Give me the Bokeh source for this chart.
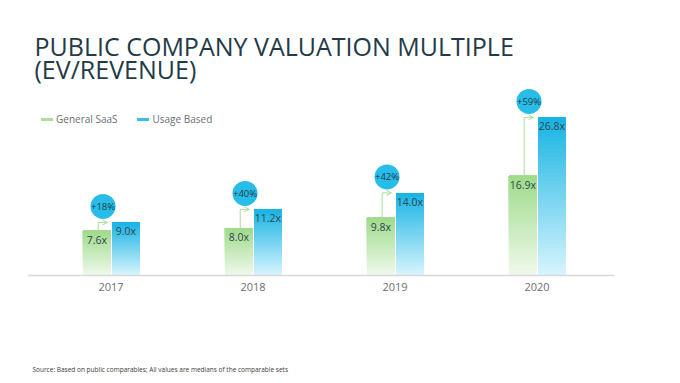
from bokeh.plotting import figure
from bokeh.models import (ColumnDataSource, Label, Legend, LegendItem,
                          Arrow, OpenHead, Range1d, Span)
from bokeh.core.properties import value
from bokeh.embed import file_html
from bokeh.resources import INLINE

# ---- data ----
years = ["2017", "2018", "2019", "2020"]
general_saas = [7.6, 8.0, 9.8, 16.9]
usage_based = [9.0, 11.2, 14.0, 26.8]
uplift = ["+18%", "+40%", "+42%", "+59%"]

# ---- style ----
W, H = 672, 378
FONT = "Open Sans"
GREEN_TOP, GREEN_BOT = (0x9f, 0xdb, 0x8b), (0xef, 0xf9, 0xeb)
BLUE_TOP, BLUE_BOT = (0x18, 0xb4, 0xe3), (0xd6, 0xf4, 0xfd)
N = 40
PX_PER_UNIT = 5.9
BASE_PX = 275          # baseline distance from the top of the canvas
BELOW = H - BASE_PX    # space under the baseline

p = figure(width=W, height=H, output_backend="svg", toolbar_location=None,
           min_border_left=27, min_border_right=58, min_border_top=0, min_border_bottom=0,
           x_range=Range1d(-0.588, 3.546),
           y_range=Range1d(-BELOW / PX_PER_UNIT, BASE_PX / PX_PER_UNIT))
p.outline_line_color = None
p.grid.visible = False
p.xaxis.visible = False
p.yaxis.visible = False
p.background_fill_color = "white"
p.border_fill_color = "white"

# baseline (category axis line)
p.add_layout(Span(location=0, dimension="width", line_color="#d8d8d8", line_width=1.5))


def mix(c1, c2, t):
    r = [round(a + (b - a) * t) for a, b in zip(c1, c2)]
    return "#%02x%02x%02x" % tuple(r)


def gradient_source(vals, offset, top_c, bot_c):
    xs, bots, tops, cols = [], [], [], []
    for i, v in enumerate(vals):
        for k in range(N):
            xs.append(i + offset)
            bots.append(v * k / N)
            tops.append(v)
            cols.append(mix(bot_c, top_c, k / (N - 1)))
    return ColumnDataSource(dict(x=xs, bottom=bots, top=tops, color=cols))


BW = 0.195
g_src = gradient_source(general_saas, -0.1, GREEN_TOP, GREEN_BOT)
b_src = gradient_source(usage_based, 0.105, BLUE_TOP, BLUE_BOT)
g_r = p.vbar(x="x", bottom="bottom", top="top", width=BW, source=g_src,
             fill_color="color", line_color=None)
b_r = p.vbar(x="x", bottom="bottom", top="top", width=BW, source=b_src,
             fill_color="color", line_color=None)

# category labels
idx = list(range(len(years)))
cat = ColumnDataSource(dict(x=idx, y=[0] * len(years), t=years))
p.text(x="x", y="y", text="t", source=cat, y_offset=11, text_align="center",
       text_baseline="middle", text_font=value(FONT), text_font_size="11px",
       text_color="#6e6e6e")

# value labels
lab = ColumnDataSource(dict(
    gx=[i - 0.1 for i in idx], gy=general_saas, gt=["%.1fx" % v for v in general_saas],
    bx=[i + 0.105 for i in idx], by=usage_based, bt=["%.1fx" % v for v in usage_based],
    ax0=[i - 0.09 for i in idx], ax1=[i - 0.025 for i in idx],
    cx=[i - 0.056 for i in idx], cy=[v + 16 / PX_PER_UNIT for v in usage_based],
    ut=uplift))
for xf, yf, tf in (("gx", "gy", "gt"), ("bx", "by", "bt")):
    p.text(x=xf, y=yf, text=tf, source=lab, y_offset=9, text_align="center",
           text_baseline="middle", text_font=value(FONT), text_font_size="10.5px",
           text_color="#2f4650")

# arrows
ARROW_C = "#a9dc98"
p.segment(x0="ax0", y0="gy", x1="ax0", y1="by", source=lab, line_color=ARROW_C, line_width=1)
p.add_layout(Arrow(x_start="ax0", y_start="by", x_end="ax1", y_end="by", source=lab,
                   line_color=ARROW_C, line_width=1,
                   end=OpenHead(size=5, line_color=ARROW_C, line_width=1)))

# uplift circles
p.scatter(x="cx", y="cy", source=lab, size=25, marker="circle",
          fill_color="#27bde8", line_color=None)
p.text(x="cx", y="cy", text="ut", source=lab, text_align="center", text_baseline="middle",
       text_font=value(FONT), text_font_size="9.5px", text_color="#1d3a48")

# legend
legend = Legend(items=[LegendItem(label="General SaaS", renderers=[g_r], index=3 * N + N - 8),
                       LegendItem(label="Usage Based", renderers=[b_r], index=3 * N + N - 8)],
                orientation="horizontal", location=(12, 149 + BELOW), glyph_width=15,
                glyph_height=4, label_standoff=2, spacing=18, padding=0, margin=0,
                border_line_color=None, background_fill_alpha=0,
                label_text_font=FONT, label_text_font_size="10px", label_text_color="#6b6f72",
                label_height=4)
p.add_layout(legend, "center")

# title
for txt, yy in (("PUBLIC COMPANY VALUATION MULTIPLE", 230), ("(EV/REVENUE)", 207)):
    p.add_layout(Label(x=7, y=yy + BELOW, x_units="screen", y_units="screen", text=txt,
                       text_font=FONT, text_font_size="25px", text_color="#233b47",
                       text_baseline="alphabetic"))

# source note
p.add_layout(Label(x=5, y=H - 369, x_units="screen", y_units="screen",
                   text="Source: Based on public comparables; All values are medians of the comparable sets",
                   text_font=FONT, text_font_size="6.5px", text_color="#3c3c3c",
                   text_baseline="middle"))

open("out.html", "w").write(file_html(p, INLINE))
